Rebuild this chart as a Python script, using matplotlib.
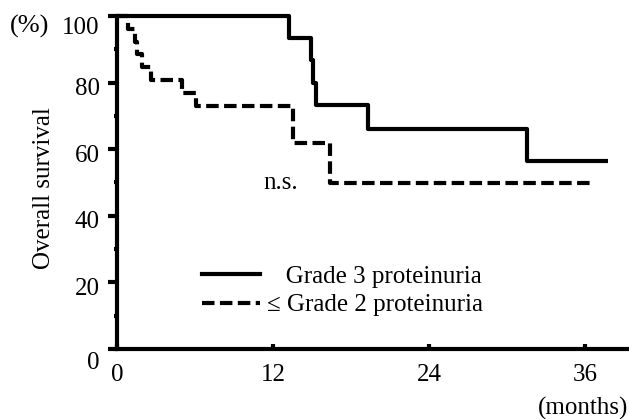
import matplotlib
matplotlib.use("Agg")
import matplotlib.pyplot as plt
import matplotlib.transforms as mtransforms
from matplotlib.lines import Line2D

plt.rcParams['font.family'] = ['Liberation Serif', 'DejaVu Serif']

# Kaplan-Meier step data (months, % surviving)
g3_months = [0, 13.2, 14.95, 15.1, 15.3, 19.3, 31.5, 37.8]
g3_surv = [100, 93.3, 86.7, 80.0, 73.3, 66.2, 56.5, 56.5]

g2_months = [0, 0.85, 1.4, 1.5, 1.9, 2.6, 5.0, 6.1, 13.5, 16.4, 36.4]
g2_surv = [100, 96.2, 92.3, 88.5, 84.6, 80.8, 76.9, 73.1, 61.8, 49.8, 49.8]

x_ticks = [0, 12, 24, 36]
y_ticks = [0, 20, 40, 60, 80, 100]
y_minor = [10, 30, 50, 70, 90]

labels = ["   Grade 3 proteinuria", "\u2264 Grade 2 proteinuria"]

FS = 18
W, H = 629, 419
fig = plt.figure(figsize=(W / 100, H / 100), dpi=100)
ax = fig.add_axes([117 / W, (H - 349) / H, 511 / W, 333 / H])

dash = (0, (3, 1.3))
ax.step(g3_months, g3_surv, where="post", color="black", lw=3, clip_on=False,
        solid_capstyle="butt")
ax.step(g2_months, g2_surv, where="post", color="black", lw=3, linestyle=dash,
        clip_on=False, dash_capstyle="butt")

ax.set_xlim(0, 511 / 13)
ax.set_ylim(0, 100)

for s in ["top", "right"]:
    ax.spines[s].set_visible(False)
for s in ["left", "bottom"]:
    ax.spines[s].set_linewidth(3)
    ax.spines[s].set_capstyle("projecting")

ax.set_xticks(x_ticks)
ax.set_yticks(y_ticks)
ax.set_yticks(y_minor, minor=True)
ax.tick_params(axis="y", which="major", direction="out", length=6.5, width=3,
               pad=6, labelsize=FS)
ax.tick_params(axis="y", which="minor", direction="out", length=2, width=3)
ax.tick_params(axis="x", which="major", direction="in", length=3.6, width=3,
               pad=11, labelsize=FS)

# the y labels sit a little below their ticks in the original
shift = {0: 11, 100: 9}
for val, lab in zip(y_ticks, ax.get_yticklabels()):
    dy = shift.get(val, 4) / 100
    lab.set_transform(lab.get_transform() +
                      mtransforms.ScaledTranslation(0, -dy, fig.dpi_scale_trans))

handles = [Line2D([], [], color="black", lw=3),
           Line2D([], [], color="black", lw=3, linestyle=dash)]
ax.legend(handles, labels, loc="upper left", bbox_to_anchor=(202 / W, 1 - 265 / H),
          bbox_transform=fig.transFigure, frameon=False, fontsize=FS,
          handlelength=2.3, handletextpad=0.3, borderpad=0, borderaxespad=0,
          labelspacing=0.25)

fig.text(281 / W, 1 - 183 / H, "n.s.", fontsize=FS, ha="center", va="center")
fig.text(30 / W, 1 - 26 / H, "(%)", fontsize=FS + 1, ha="center", va="center")
fig.text(583 / W, 1 - 408 / H, "(months)", fontsize=FS, ha="center", va="center")
fig.text(44 / W, 1 - 188 / H, "Overall survival", fontsize=FS, ha="center",
         va="center", rotation=90)

fig.savefig("out.png", dpi=100)
